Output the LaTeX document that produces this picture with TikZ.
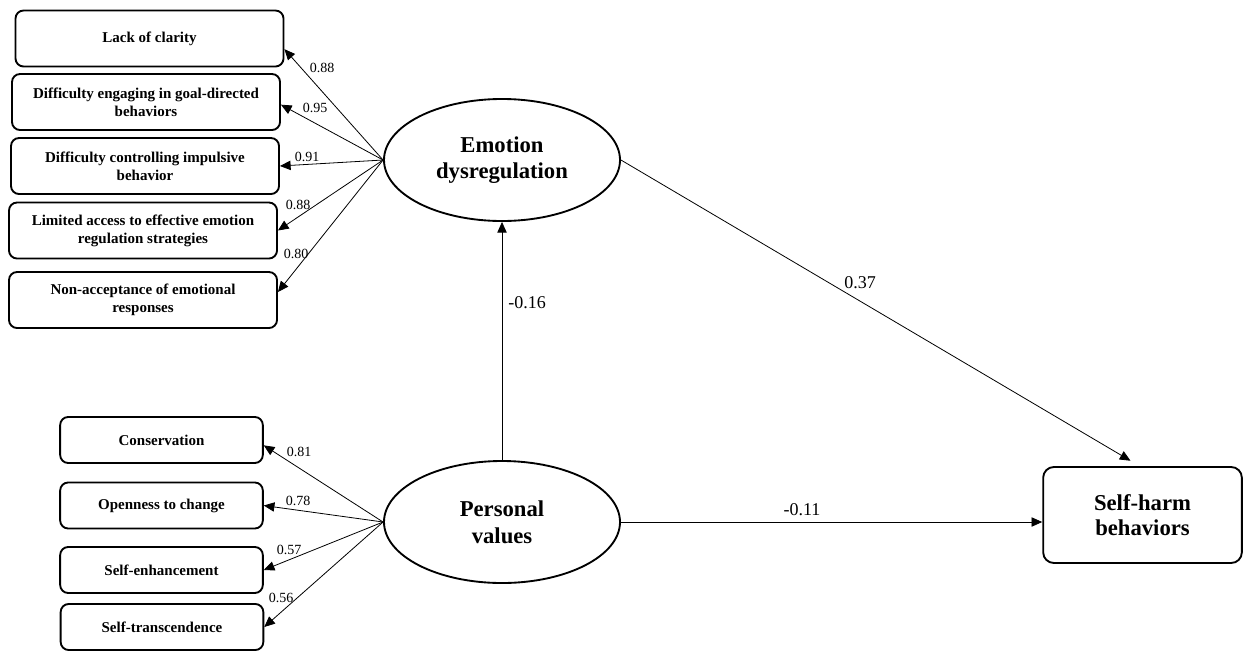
\documentclass[tikz,border=0pt]{standalone}
\usepackage{fontspec}
\setmainfont{Liberation Serif}
\usepackage{tikz}
\usetikzlibrary{arrows.meta,shapes.geometric}
\tikzset{
  ind/.style={draw, line width=1.4pt, rounded corners=6pt,
    minimum width=201pt, minimum height=42pt, inner sep=0pt,
    align=center, font=\fontsize{11.25}{13.5}\selectfont\bfseries},
  val/.style={ind, minimum width=152pt, minimum height=34.5pt},
  lat/.style={draw, ellipse, line width=1.4pt,
    minimum width=177pt, minimum height=91.5pt, inner sep=0pt,
    align=center, font=\fontsize{17}{20}\selectfont\bfseries},
  outbox/.style={draw, line width=1.4pt, rounded corners=8pt,
    minimum width=149pt, minimum height=72pt, inner sep=0pt,
    align=center, font=\fontsize{17}{19}\selectfont\bfseries},
  load/.style={-{Triangle[length=8pt,width=7pt]}, line width=0.6pt},
  wt/.style={font=\fontsize{10.5}{12}\selectfont, inner sep=0pt},
  coef/.style={font=\fontsize{13.5}{15}\selectfont, inner sep=0pt}
}

\begin{document}
\begin{tikzpicture}[x=0.75pt, y=-0.75pt]
  \useasboundingbox (0,0) rectangle (1244,650);

  % latent variables
  \node[lat] (emo) at (502,160) {Emotion\\dysregulation};
  \node[lat] (pv) at (502,522) {Personal\\values};
  \node[outbox] (sh) at (1142.5,515) {Self-harm\\behaviors};

  % emotion dysregulation indicators
  \node[ind] (lack) at (149.5,38.5) {Lack of clarity};
  \node[ind] (goal) at (146,102) {Difficulty engaging in goal-directed\\behaviors};
  \node[ind] (impl) at (145,166) {Difficulty controlling impulsive\\behavior};
  \node[ind] (strat) at (143,230.5) {Limited access to effective emotion\\regulation strategies};
  \node[ind] (nonacc) at (143,300) {Non-acceptance of emotional\\responses};

  \draw[load] (emo.west) -- ([yshift=-8pt]lack.east);
  \draw[load] (emo.west) -- ([yshift=-2pt]goal.east);
  \draw[load] (emo.west) -- (impl.east);
  \draw[load] (emo.west) -- (strat.east);
  \draw[load] (emo.west) -- ([yshift=6pt]nonacc.east);

  \node[wt] (w1) at (322,68) {0.88};
  \node[wt] (w2) at (315,108) {0.95};
  \node[wt] (w3) at (307,157) {0.91};
  \node[wt] (w4) at (298,205) {0.88};
  \node[wt] (w5) at (296,254) {0.80};

  % personal values indicators
  \node[val] (cons) at (161.5,440) {Conservation};
  \node[val] (open) at (161.5,505.5) {Openness to change};
  \node[val] (enh) at (161.5,570) {Self-enhancement};
  \node[val] (trans) at (162,627) {Self-transcendence};

  \draw[load] (pv.west) -- ([yshift=-4pt]cons.east);
  \draw[load] (pv.west) -- (open.east);
  \draw[load] (pv.west) -- (enh.east);
  \draw[load] (pv.west) -- (trans.east);

  \node[wt] (w6) at (299,452) {0.81};
  \node[wt] (w7) at (298,501) {0.78};
  \node[wt] (w8) at (289,550) {0.57};
  \node[wt] (w9) at (281,598) {0.56};

  % structural paths
  \draw[load] (pv.north) -- (emo.south);
  \draw[load] (emo.east) -- ([xshift=-9pt,yshift=4pt]sh.north);
  \draw[load] (pv.east) -- (pv.east -| sh.west);

  \node[coef] (c1) at (527,303) {-0.16};
  \node[coef] (c2) at (860,283) {0.37};
  \node[coef] (c3) at (802,510) {-0.11};
\end{tikzpicture}
\end{document}
